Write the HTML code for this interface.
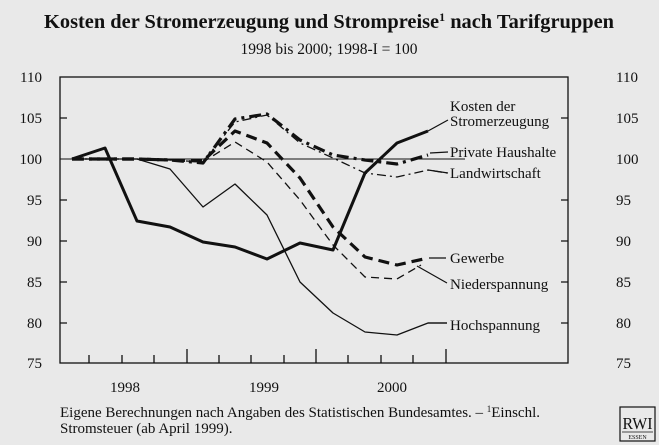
<!DOCTYPE html>
<html><head><meta charset="utf-8"><style>
html,body{margin:0;padding:0;background:#e9e9e9;}
svg{display:block;}
text{font-family:"Liberation Serif",serif;fill:#111;}
</style></head><body>
<svg width="659" height="445" viewBox="0 0 659 445">
<rect width="659" height="445" fill="#e9e9e9"/>
<text x="329" y="28" text-anchor="middle" font-size="20.5" font-weight="bold" textLength="570" lengthAdjust="spacingAndGlyphs">Kosten der Stromerzeugung und Strompreise<tspan font-size="12" dy="-7">1</tspan><tspan dy="7"> nach Tarifgruppen</tspan></text>
<text x="329" y="54" text-anchor="middle" font-size="15.5">1998 bis 2000; 1998-I = 100</text>
<rect x="60" y="77" width="508" height="286" fill="none" stroke="#111" stroke-width="1.3"/>
<g font-size="15">
<text x="42" y="82" text-anchor="end">110</text><text x="42" y="123" text-anchor="end">105</text><text x="42" y="164" text-anchor="end">100</text><text x="42" y="205" text-anchor="end">95</text><text x="42" y="246" text-anchor="end">90</text><text x="42" y="287" text-anchor="end">85</text><text x="42" y="328" text-anchor="end">80</text><text x="42" y="368" text-anchor="end">75</text>
<text x="616" y="82">110</text><text x="616" y="123">105</text><text x="616" y="164">100</text><text x="616" y="205">95</text><text x="616" y="246">90</text><text x="616" y="287">85</text><text x="616" y="328">80</text><text x="616" y="368">75</text>
<text x="125" y="392" text-anchor="middle">1998</text><text x="264" y="392" text-anchor="middle">1999</text><text x="392" y="392" text-anchor="middle">2000</text>
</g>
<g stroke="#111" stroke-width="1.3">
<path d="M60 118h7M60 200h7M60 241h7M60 282h7M60 323h7M561 118h7M561 200h7M561 241h7M561 282h7M561 323h7"/>
<path d="M89 363v-8M122 363v-8M154 363v-8M187 363v-14M219 363v-8M251 363v-8M284 363v-8M316 363v-14M348 363v-8M381 363v-8M413 363v-8M446 363v-14"/>
</g>
<line x1="60" y1="159" x2="465" y2="159" stroke="#111" stroke-width="1"/>
<g fill="none" stroke="#111" stroke-linejoin="round">
<polyline stroke-width="1.3" points="72,159 105,159 137,159 170,169 203,207 235,184 267,215 300,282 333,313 365,332 397,335 428,323 447,323"/>
<polyline stroke-width="1.3" stroke-dasharray="9,4,2,4" points="72,159 105,159 137,159 170,160 203,162 235,122 267,115 300,143 333,158 365,173 397,177 428,170 447,173"/>
<polyline stroke-width="1.3" stroke-dasharray="8,5" points="72,159 105,159 137,159 170,160 203,162 235,142 267,162 300,200 333,245 365,277 397,279 421,265"/>
<polyline stroke-width="3.2" stroke-dasharray="12,5,3,5" points="72,159 105,159 137,159 170,160 203,163 235,119 267,114 300,140 333,155 365,160 397,164 428,155"/>
<polyline stroke-width="3.2" stroke-dasharray="11,6" points="72,159 105,159 137,159 170,160 203,161 235,131 267,143 300,178 333,227 365,257 397,265 428,258"/>
<polyline stroke-width="3" points="72,159 105,148 137,221 170,227 203,242 235,247 267,259 300,243 333,250 365,173 397,143 428,131"/>
<g stroke-width="1.2"><path d="M428 131L448 120M430 153L448 152M428 170L448 173M429 258L446 258M417 266L447 283M428 323L447 323"/></g>
</g>
<g font-size="15">
<text x="450" y="111">Kosten der</text><text x="450" y="126">Stromerzeugung</text>
<text x="450" y="157">Private Haushalte</text>
<text x="450" y="178">Landwirtschaft</text>
<text x="450" y="263">Gewerbe</text>
<text x="450" y="289">Niederspannung</text>
<text x="450" y="330">Hochspannung</text>
<text x="60" y="417" textLength="480" lengthAdjust="spacingAndGlyphs">Eigene Berechnungen nach Angaben des Statistischen Bundesamtes. – <tspan font-size="9" dy="-5">1</tspan><tspan dy="5">Einschl.</tspan></text>
<text x="60" y="433">Stromsteuer (ab April 1999).</text>
</g>
<rect x="620" y="407" width="35" height="34" fill="none" stroke="#111" stroke-width="1.2"/>
<text x="637.5" y="429" text-anchor="middle" font-size="17" textLength="30" lengthAdjust="spacingAndGlyphs">RWI</text>
<line x1="622" y1="432" x2="653" y2="432" stroke="#111" stroke-width="0.8"/>
<text x="637.5" y="439" text-anchor="middle" font-size="6" font-family="Liberation Sans">ESSEN</text>
</svg>
</body></html>
